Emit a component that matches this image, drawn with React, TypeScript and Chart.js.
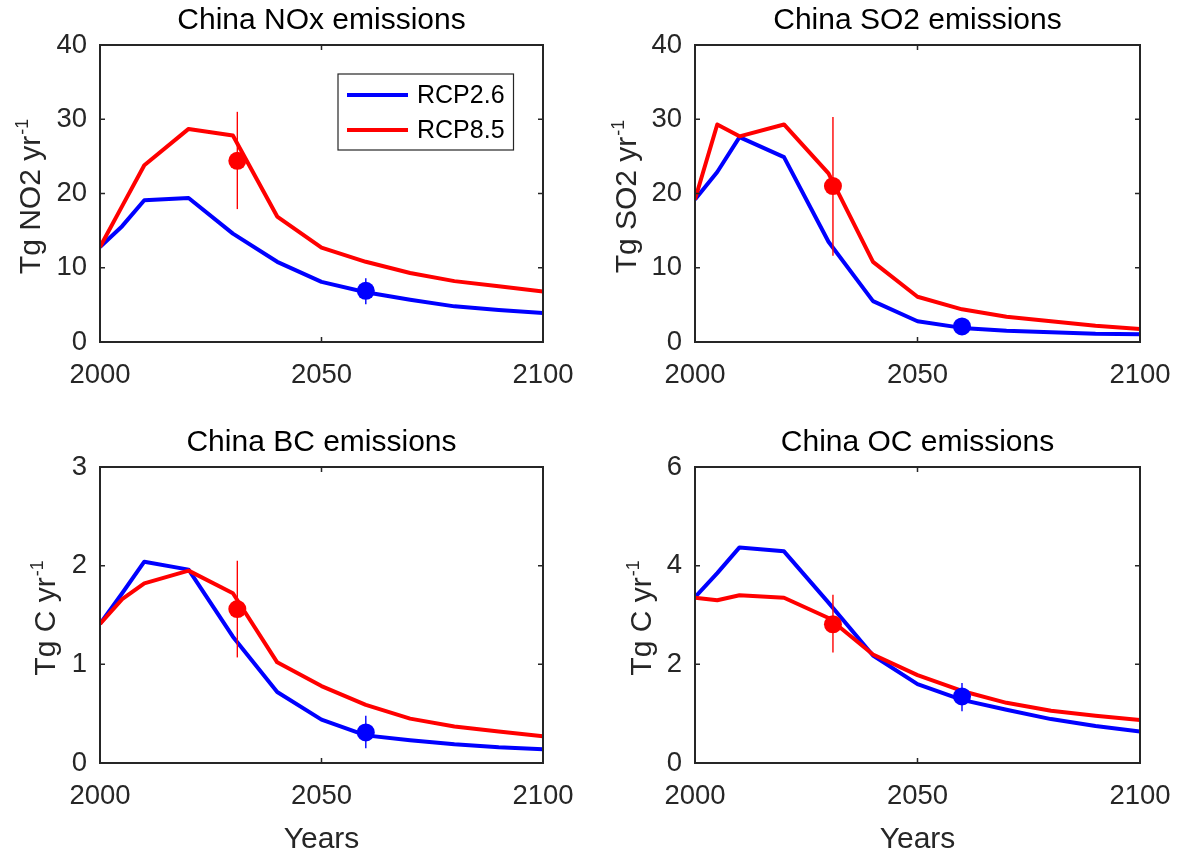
import React, { useEffect, useRef } from 'react';
import { Chart, registerables } from 'chart.js';

Chart.register(...registerables);

// ---------------- data ----------------
const YEARS = [2000, 2005, 2010, 2020, 2030, 2040, 2050, 2060, 2070, 2080, 2090, 2100];
const SERIES_NAMES = ['RCP2.6', 'RCP8.5'];
const OBS_YEAR_RCP85 = 2031;
const OBS_YEAR_RCP26 = 2060;

const NOX_RCP26 = [12.8, 15.6, 19.1, 19.4, 14.6, 10.8, 8.1, 6.7, 5.7, 4.8, 4.3, 3.9];
const NOX_RCP85 = [12.8, 18.3, 23.8, 28.7, 27.8, 16.9, 12.7, 10.8, 9.3, 8.2, 7.5, 6.8];
const NOX_OBS = [24.4, 6.9]; // [RCP8.5 obs, RCP2.6 obs]
const NOX_OBS_LOW = [17.9, 5.1];
const NOX_OBS_HIGH = [31.0, 8.6];

const SO2_RCP26 = [19.2, 22.9, 27.6, 24.9, 13.5, 5.5, 2.8, 1.9, 1.5, 1.3, 1.1, 1.05];
const SO2_RCP85 = [19.2, 29.3, 27.7, 29.3, 22.7, 10.8, 6.1, 4.4, 3.4, 2.8, 2.2, 1.75];
const SO2_OBS = [21.0, 2.1];
const SO2_OBS_LOW = [11.6, 1.1];
const SO2_OBS_HIGH = [30.3, 2.9];

const BC_RCP26 = [1.41, 1.72, 2.04, 1.96, 1.28, 0.72, 0.44, 0.28, 0.23, 0.19, 0.16, 0.14];
const BC_RCP85 = [1.41, 1.66, 1.82, 1.95, 1.72, 1.02, 0.78, 0.59, 0.45, 0.37, 0.32, 0.27];
const BC_OBS = [1.56, 0.31];
const BC_OBS_LOW = [1.07, 0.15];
const BC_OBS_HIGH = [2.05, 0.48];

const OC_RCP26 = [3.36, 3.85, 4.37, 4.29, 3.25, 2.18, 1.6, 1.28, 1.08, 0.89, 0.75, 0.64];
const OC_RCP85 = [3.35, 3.3, 3.4, 3.35, 2.94, 2.2, 1.78, 1.46, 1.22, 1.06, 0.96, 0.87];
const OC_OBS = [2.81, 1.35];
const OC_OBS_LOW = [2.24, 1.05];
const OC_OBS_HIGH = [3.41, 1.62];

const X_TICKS_MIN = 2000;
const X_TICKS_MAX = 2100;
const X_STEP = 50;

// ---------------- styles ----------------
const FONT = "'Liberation Sans', Arial, Helvetica, sans-serif";
const AXIS_COLOR = '#262626';
const BLUE = '#0000ff';
const RED = '#ff0000';
const SERIES_COLORS = [BLUE, RED];
const LINE_W = 4;
const MARKER_R = 9;

type Layout = {
  left: number; top: number; w: number; h: number;
  padTop: number; padRight: number; yWidth: number; xHeight: number; yLabelX: number;
};

type Panel = {
  id: string; title: string; yMain: string; ySup: string; yMax: number; yStep: number;
  rcp26: number[]; rcp85: number[]; obs: number[]; obsLow: number[]; obsHigh: number[];
  legend: boolean; xTitle: boolean; layout: Layout;
};

const PANELS: Panel[] = [
  {
    id: 'nox', title: 'China NOx emissions', yMain: 'Tg NO2 yr', ySup: '-1', yMax: 40, yStep: 10,
    rcp26: NOX_RCP26, rcp85: NOX_RCP85, obs: NOX_OBS, obsLow: NOX_OBS_LOW, obsHigh: NOX_OBS_HIGH,
    legend: true, xTitle: false,
    layout: { left: 0, top: 0, w: 590, h: 420, padTop: 3, padRight: 47, yWidth: 100, xHeight: 78, yLabelX: 39.5 },
  },
  {
    id: 'so2', title: 'China SO2 emissions', yMain: 'Tg SO2 yr', ySup: '-1', yMax: 40, yStep: 10,
    rcp26: SO2_RCP26, rcp85: SO2_RCP85, obs: SO2_OBS, obsLow: SO2_OBS_LOW, obsHigh: SO2_OBS_HIGH,
    legend: false, xTitle: false,
    layout: { left: 590, top: 0, w: 589, h: 420, padTop: 3, padRight: 39, yWidth: 105, xHeight: 78, yLabelX: 46 },
  },
  {
    id: 'bc', title: 'China BC emissions', yMain: 'Tg C yr', ySup: '-1', yMax: 3, yStep: 1,
    rcp26: BC_RCP26, rcp85: BC_RCP85, obs: BC_OBS, obsLow: BC_OBS_LOW, obsHigh: BC_OBS_HIGH,
    legend: false, xTitle: true,
    layout: { left: 0, top: 420, w: 590, h: 433, padTop: 5, padRight: 47, yWidth: 100, xHeight: 90, yLabelX: 54.5 },
  },
  {
    id: 'oc', title: 'China OC emissions', yMain: 'Tg C yr', ySup: '-1', yMax: 6, yStep: 2,
    rcp26: OC_RCP26, rcp85: OC_RCP85, obs: OC_OBS, obsLow: OC_OBS_LOW, obsHigh: OC_OBS_HIGH,
    legend: false, xTitle: true,
    layout: { left: 590, top: 420, w: 589, h: 433, padTop: 5, padRight: 39, yWidth: 105, xHeight: 90, yLabelX: 61 },
  },
];

const decorPlugin = {
  id: 'decor',
  afterDraw(chart: any, _args: any, opts: any) {
    const { ctx, chartArea: a, scales } = chart;
    const xs = scales.x;
    const ys = scales.y;
    ctx.save();
    // axes box
    ctx.strokeStyle = AXIS_COLOR;
    ctx.lineWidth = 2;
    ctx.strokeRect(a.left, a.top, a.right - a.left, a.bottom - a.top);
    // inward ticks
    const TL = 5;
    ctx.lineWidth = 1.5;
    ctx.beginPath();
    xs.ticks.forEach((t: any) => {
      const p = xs.getPixelForValue(t.value);
      ctx.moveTo(p, a.bottom); ctx.lineTo(p, a.bottom - TL);
      ctx.moveTo(p, a.top); ctx.lineTo(p, a.top + TL);
    });
    ys.ticks.forEach((t: any) => {
      const p = ys.getPixelForValue(t.value);
      ctx.moveTo(a.left, p); ctx.lineTo(a.left + TL, p);
      ctx.moveTo(a.right, p); ctx.lineTo(a.right - TL, p);
    });
    ctx.stroke();

    // y-axis label with superscript
    const mainFont = `30px ${FONT}`;
    const supFont = `18px ${FONT}`;
    ctx.font = mainFont;
    const mw = ctx.measureText(opts.yMain).width;
    ctx.font = supFont;
    const sw = ctx.measureText(opts.ySup).width;
    const total = mw + sw + 1;
    const cy = (a.top + a.bottom) / 2 + 3;
    ctx.save();
    ctx.translate(opts.yLabelX, cy);
    ctx.rotate(-Math.PI / 2);
    ctx.fillStyle = AXIS_COLOR;
    ctx.textAlign = 'left';
    ctx.textBaseline = 'alphabetic';
    ctx.font = mainFont;
    ctx.fillText(opts.yMain, -total / 2, 0);
    ctx.font = supFont;
    ctx.fillText(opts.ySup, -total / 2 + mw + 1, -12);
    ctx.restore();

    // legend
    if (opts.legend) {
      const bx = 338, by = 74, bw = 175.5, bh = 76;
      ctx.fillStyle = '#ffffff';
      ctx.fillRect(bx, by, bw, bh);
      ctx.strokeStyle = AXIS_COLOR;
      ctx.lineWidth = 1.2;
      ctx.strokeRect(bx, by, bw, bh);
      const rows = [95, 130];
      SERIES_NAMES.forEach((name, i) => {
        const y = rows[i];
        ctx.strokeStyle = SERIES_COLORS[i];
        ctx.lineWidth = LINE_W;
        ctx.beginPath();
        ctx.moveTo(347, y);
        ctx.lineTo(408, y);
        ctx.stroke();
        ctx.fillStyle = '#000000';
        ctx.font = `25px ${FONT}`;
        ctx.textAlign = 'left';
        ctx.textBaseline = 'middle';
        ctx.fillText(name, 417, y + 1);
      });
    }
    ctx.restore();
  },
};

function PanelChart({ p }: { p: Panel }) {
  const ref = useRef<HTMLCanvasElement | null>(null);
  useEffect(() => {
    if (!ref.current) return;
    const L = p.layout;
    const series = (vals: number[]) => YEARS.map((yr, i) => ({ x: yr, y: vals[i] }));
    const chart = new Chart(ref.current, {
      type: 'line',
      data: {
        datasets: [
          {
            label: 'obs26', data: [{ x: OBS_YEAR_RCP26, y: p.obs[1] }], showLine: false,
            pointRadius: MARKER_R, pointBackgroundColor: BLUE, pointBorderWidth: 0, borderColor: BLUE,
          },
          {
            label: 'obs85', data: [{ x: OBS_YEAR_RCP85, y: p.obs[0] }], showLine: false,
            pointRadius: MARKER_R, pointBackgroundColor: RED, pointBorderWidth: 0, borderColor: RED,
          },
          {
            label: 'err26', data: [{ x: OBS_YEAR_RCP26, y: p.obsLow[1] }, { x: OBS_YEAR_RCP26, y: p.obsHigh[1] }],
            borderColor: BLUE, borderWidth: 1.4, pointRadius: 0,
          },
          {
            label: 'err85', data: [{ x: OBS_YEAR_RCP85, y: p.obsLow[0] }, { x: OBS_YEAR_RCP85, y: p.obsHigh[0] }],
            borderColor: RED, borderWidth: 1.4, pointRadius: 0,
          },
          {
            label: SERIES_NAMES[1], data: series(p.rcp85), borderColor: RED, borderWidth: LINE_W,
            pointRadius: 0, tension: 0, borderJoinStyle: 'round', borderCapStyle: 'butt',
          },
          {
            label: SERIES_NAMES[0], data: series(p.rcp26), borderColor: BLUE, borderWidth: LINE_W,
            pointRadius: 0, tension: 0, borderJoinStyle: 'round', borderCapStyle: 'butt',
          },
        ],
      },
      options: {
        responsive: false,
        animation: false,
        events: [],
        layout: { padding: { top: L.padTop, right: L.padRight, left: 0, bottom: 0 } },
        plugins: {
          legend: { display: false },
          tooltip: { enabled: false },
          title: {
            display: true,
            text: p.title,
            fullSize: false,
            color: '#000000',
            font: { family: FONT, size: 30, weight: 'normal', lineHeight: 1.2 },
            padding: { top: 0, bottom: 6 },
          },
          decor: { yMain: p.yMain, ySup: p.ySup, yLabelX: L.yLabelX, legend: p.legend },
        } as any,
        scales: {
          x: {
            type: 'linear',
            min: X_TICKS_MIN,
            max: X_TICKS_MAX,
            grid: { display: false, drawTicks: false },
            border: { display: false },
            ticks: {
              stepSize: X_STEP,
              color: AXIS_COLOR,
              padding: 17,
              maxRotation: 0,
              font: { family: FONT, size: 27.5, lineHeight: 1.2 },
              callback: (v: any) => String(v),
            },
            title: {
              display: p.xTitle,
              text: 'Years',
              color: AXIS_COLOR,
              font: { family: FONT, size: 30, lineHeight: 0.9 },
              padding: { top: 0, bottom: 0 },
            },
            afterFit: (s: any) => {
              s.height = L.xHeight;
              s.paddingLeft = 0;
              s.paddingRight = 0;
            },
          },
          y: {
            type: 'linear',
            min: 0,
            max: p.yMax,
            grid: { display: false, drawTicks: false },
            border: { display: false },
            ticks: {
              stepSize: p.yStep,
              color: AXIS_COLOR,
              padding: 13,
              font: { family: FONT, size: 27.5, lineHeight: 1.2 },
              callback: (v: any) => String(v),
            },
            afterFit: (s: any) => {
              s.width = L.yWidth;
              s.paddingTop = 0;
              s.paddingBottom = 0;
            },
          },
        },
      } as any,
      plugins: [decorPlugin as any],
    });
    return () => chart.destroy();
  }, [p]);
  const L = p.layout;
  return (
    <canvas
      ref={ref}
      width={L.w}
      height={L.h}
      style={{ position: 'absolute', left: L.left, top: L.top, width: L.w, height: L.h, display: 'block' }}
    />
  );
}

export default function App() {
  return (
    <div style={{ position: 'absolute', left: 0, top: 0, width: 1179, height: 853, background: '#ffffff', overflow: 'hidden' }}>
      {PANELS.map((p) => (
        <PanelChart key={p.id} p={p} />
      ))}
    </div>
  );
}
